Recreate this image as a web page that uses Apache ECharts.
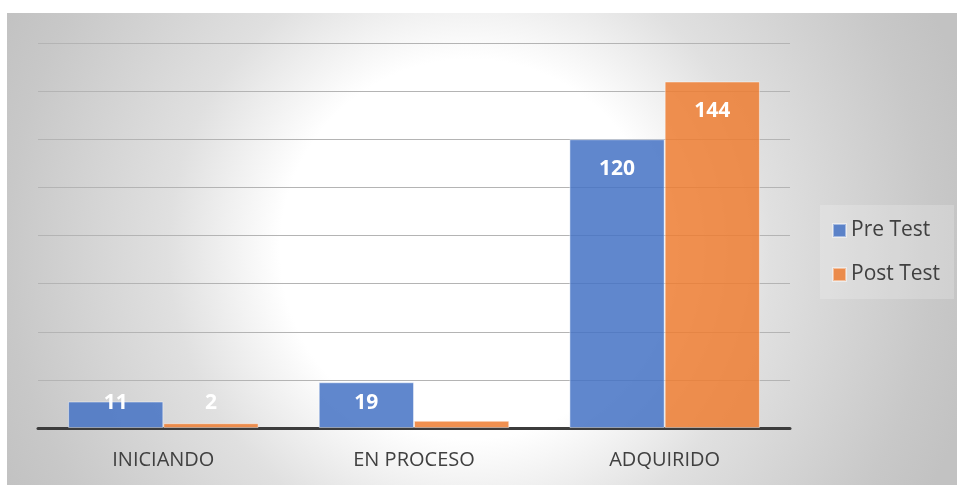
<!DOCTYPE html>
<html>
<head>
<meta charset="utf-8">
<script src="https://cdn.jsdelivr.net/npm/echarts@6/dist/echarts.min.js"></script>
<style>
  html, body { margin: 0; padding: 0; background: #fff; }
  #main { width: 957px; height: 485px; }
</style>
</head>
<body>
<div id="main"></div>
<script>
// datos del gráfico
var categorias = ['INICIANDO', 'EN PROCESO', 'ADQUIRIDO'];
var preTest = [11, 19, 120];
var postTest = [2, 3, 144];
var series_nombres = ['Pre Test', 'Post Test'];

var myChart = echarts.init(document.getElementById('main'));

// etiqueta dentro del extremo, o abajo si la barra es corta
function etiquetas(valores) {
    return valores.map(function (v) {
        var corta = v < 30;
        return {
            value: v,
            label: {
                position: corta ? 'insideBottom' : 'insideTop',
                distance: corta ? 14 : 19
            }
        };
    });
}

var fuente = 'Open Sans, Noto Sans, sans-serif';

var labelBase = {
    show: true,
    color: '#ffffff',
    fontSize: 21,
    fontWeight: 'bold',
    fontFamily: fuente
};

// fondo degradado (centro blanco, bordes grises)
var fondo = new echarts.graphic.RadialGradient(470, 249, 520, [
    { offset: 0, color: '#ffffff' },
    { offset: 0.365, color: '#ffffff' },
    { offset: 0.42, color: '#f7f7f7' },
    { offset: 0.58, color: '#e0e0e0' },
    { offset: 0.89, color: '#c8c8c8' },
    { offset: 1, color: '#c2c2c2' }
], true);

option = {
    backgroundColor: '#ffffff',
    animation: false,
    graphic: [{
        type: 'rect',
        z: -10,
        silent: true,
        shape: { x: 7, y: 13, width: 950, height: 472 },
        style: { fill: fondo }
    }],
    grid: { left: 38, right: 167, top: 43, bottom: 57 },
    legend: {
        orient: 'vertical',
        left: 820,
        top: 205,
        itemWidth: 13,
        itemHeight: 13,
        itemGap: 23,
        backgroundColor: 'rgba(255,255,255,0.2)',
        padding: [15, 14, 14, 12],
        icon: 'rect',
        textStyle: { fontSize: 21, color: '#404040', fontFamily: fuente },
        data: series_nombres
    },
    xAxis: {
        type: 'category',
        data: categorias,
        axisLine: { lineStyle: { color: '#3c3c3c', width: 3 } },
        axisTick: { show: false },
        axisLabel: { fontSize: 20, color: '#404040', margin: 22, fontFamily: fuente }
    },
    yAxis: {
        type: 'value',
        min: 0,
        max: 160,
        interval: 20,
        axisLabel: { show: false },
        axisLine: { show: false },
        axisTick: { show: false },
        splitLine: { lineStyle: { color: '#b4b4b4', width: 1 } }
    },
    series: [
        {
            name: series_nombres[0],
            type: 'bar',
            barGap: '0%',
            barCategoryGap: '24%',
            itemStyle: { color: 'rgba(68,114,196,0.85)', borderColor: 'rgba(255,255,255,0.45)', borderWidth: 1 },
            label: labelBase,
            data: etiquetas(preTest)
        },
        {
            name: series_nombres[1],
            type: 'bar',
            itemStyle: { color: 'rgba(237,125,49,0.85)', borderColor: 'rgba(255,255,255,0.45)', borderWidth: 1 },
            label: labelBase,
            data: etiquetas(postTest)
        }
    ]
};

myChart.setOption(option);
</script>
</body>
</html>
